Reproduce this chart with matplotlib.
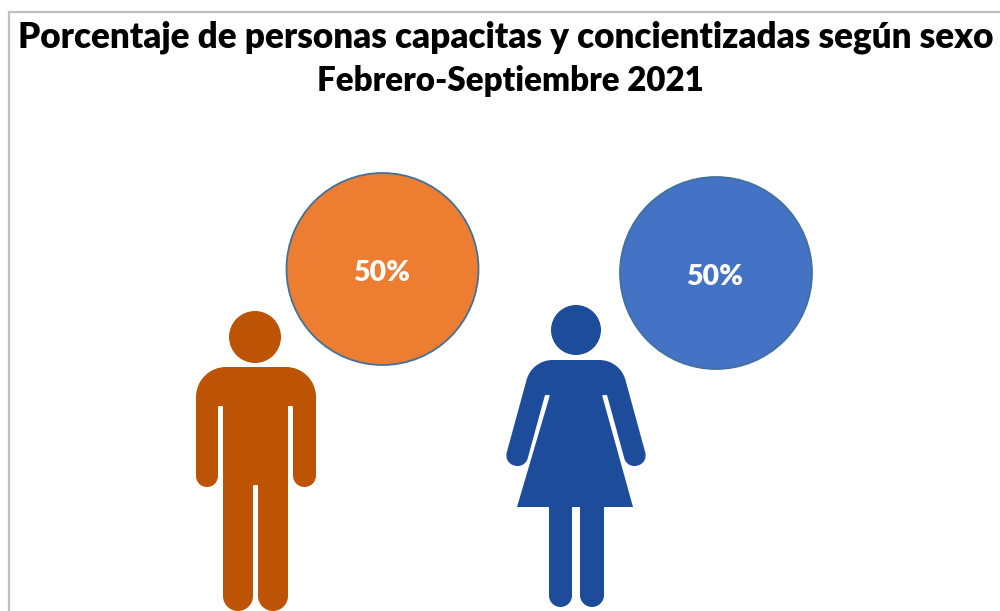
import math
import matplotlib
matplotlib.use('Agg')
import matplotlib.pyplot as plt
from matplotlib.patches import Circle, PathPatch, Rectangle
from matplotlib.path import Path

titulos = ['Porcentaje de personas capacitas y concientizadas según sexo', 'Febrero-Septiembre 2021']
sexos = ['Hombres', 'Mujeres']
porcentajes = [50, 50]
color_burbuja = ['#ED7D31', '#4472C4']
color_figura = ['#BD5305', '#1D4C9B']

# silhouettes as corners (x, y, corner radius), in image pixels
hombre = [(196, 367, 30), (316, 367, 30), (316, 487, 11.5), (293, 487, 11.5), (293, 406, 1),
          (288, 406, 1), (288, 611, 15), (258, 611, 15), (258, 485, 1), (253, 485, 1),
          (253, 611, 15), (223, 611, 15), (223, 406, 1), (218, 406, 1), (218, 487, 11),
          (196, 487, 11)]
mujer = [(532, 360, 27), (620, 360, 27), (648, 462.5, 10.5), (627.1, 468.7, 10.5), (607, 395, 1),
         (602, 395, 1), (633, 507, 0), (604, 507, 0), (604, 607, 12), (580, 607, 12),
         (580, 507, 0), (572, 507, 0), (572, 607, 11.5), (549, 607, 11.5), (549, 507, 0),
         (517, 507, 0), (550, 395, 1), (545, 395, 1), (524.9, 468.7, 10.5), (504, 462.5, 10.5)]
siluetas = [hombre, mujer]
cabezas = [(255, 337, 26), (576, 330, 25)]
burbujas = [(382.5, 269, 96), (716, 273, 96)]
etiquetas = [(382, 273), (715, 277)]


def redondea(esquinas):
    # polygon with rounded corners, as a closed bezier path
    verts, codes = [], []
    n = len(esquinas)
    for i in range(n):
        x0, y0, _ = esquinas[i - 1]
        x1, y1, r = esquinas[i]
        x2, y2, _ = esquinas[(i + 1) % n]
        a = math.hypot(x0 - x1, y0 - y1)
        b = math.hypot(x2 - x1, y2 - y1)
        ax_, ay_ = (x0 - x1) / a, (y0 - y1) / a
        bx_, by_ = (x2 - x1) / b, (y2 - y1) / b
        giro = math.pi - math.acos(max(-1, min(1, ax_ * bx_ + ay_ * by_)))
        t = r * math.tan(giro / 2)
        h = r * 4 / 3 * math.tan(giro / 4)
        inicio = (x1 + ax_ * t, y1 + ay_ * t)
        fin = (x1 + bx_ * t, y1 + by_ * t)
        verts.append(inicio)
        codes.append(Path.LINETO if verts[:-1] else Path.MOVETO)
        verts += [(inicio[0] - ax_ * h, inicio[1] - ay_ * h), (fin[0] - bx_ * h, fin[1] - by_ * h), fin]
        codes += [Path.CURVE4] * 3
    verts.append(verts[0])
    codes.append(Path.CLOSEPOLY)
    return Path(verts, codes)


plt.rcParams['font.family'] = ['Lato', 'DejaVu Sans']

fig = plt.figure(figsize=(10, 6.11), dpi=100)
ax = fig.add_axes([0, 0, 1, 1])
ax.set_xlim(0, 1000)
ax.set_ylim(611, 0)
ax.axis('off')

# chart frame, runs off the right and bottom of the picture
ax.add_patch(Rectangle((9, 12), 1100, 700, fc='white', ec='#BFBFBF', lw=1.6))

ax.text(506, 37, titulos[0], ha='center', va='center', fontsize=25.2, fontweight='heavy', color='black')
ax.text(510, 81, titulos[1], ha='center', va='center', fontsize=23.8, fontweight='heavy', color='black')

for i in range(len(sexos)):
    ax.add_patch(PathPatch(redondea(siluetas[i]), fc=color_figura[i], ec='none'))
    cx, cy, r = cabezas[i]
    ax.add_patch(Circle((cx, cy), r, fc=color_figura[i], ec='none'))
    cx, cy, r = burbujas[i]
    ax.add_patch(Circle((cx, cy), r, fc=color_burbuja[i], ec='#41719C', lw=1.3))
    ax.text(etiquetas[i][0], etiquetas[i][1], str(porcentajes[i]) + '%', ha='center', va='center',
            fontsize=20.5, fontweight='heavy', color='white')

fig.savefig('out.png', dpi=100)
